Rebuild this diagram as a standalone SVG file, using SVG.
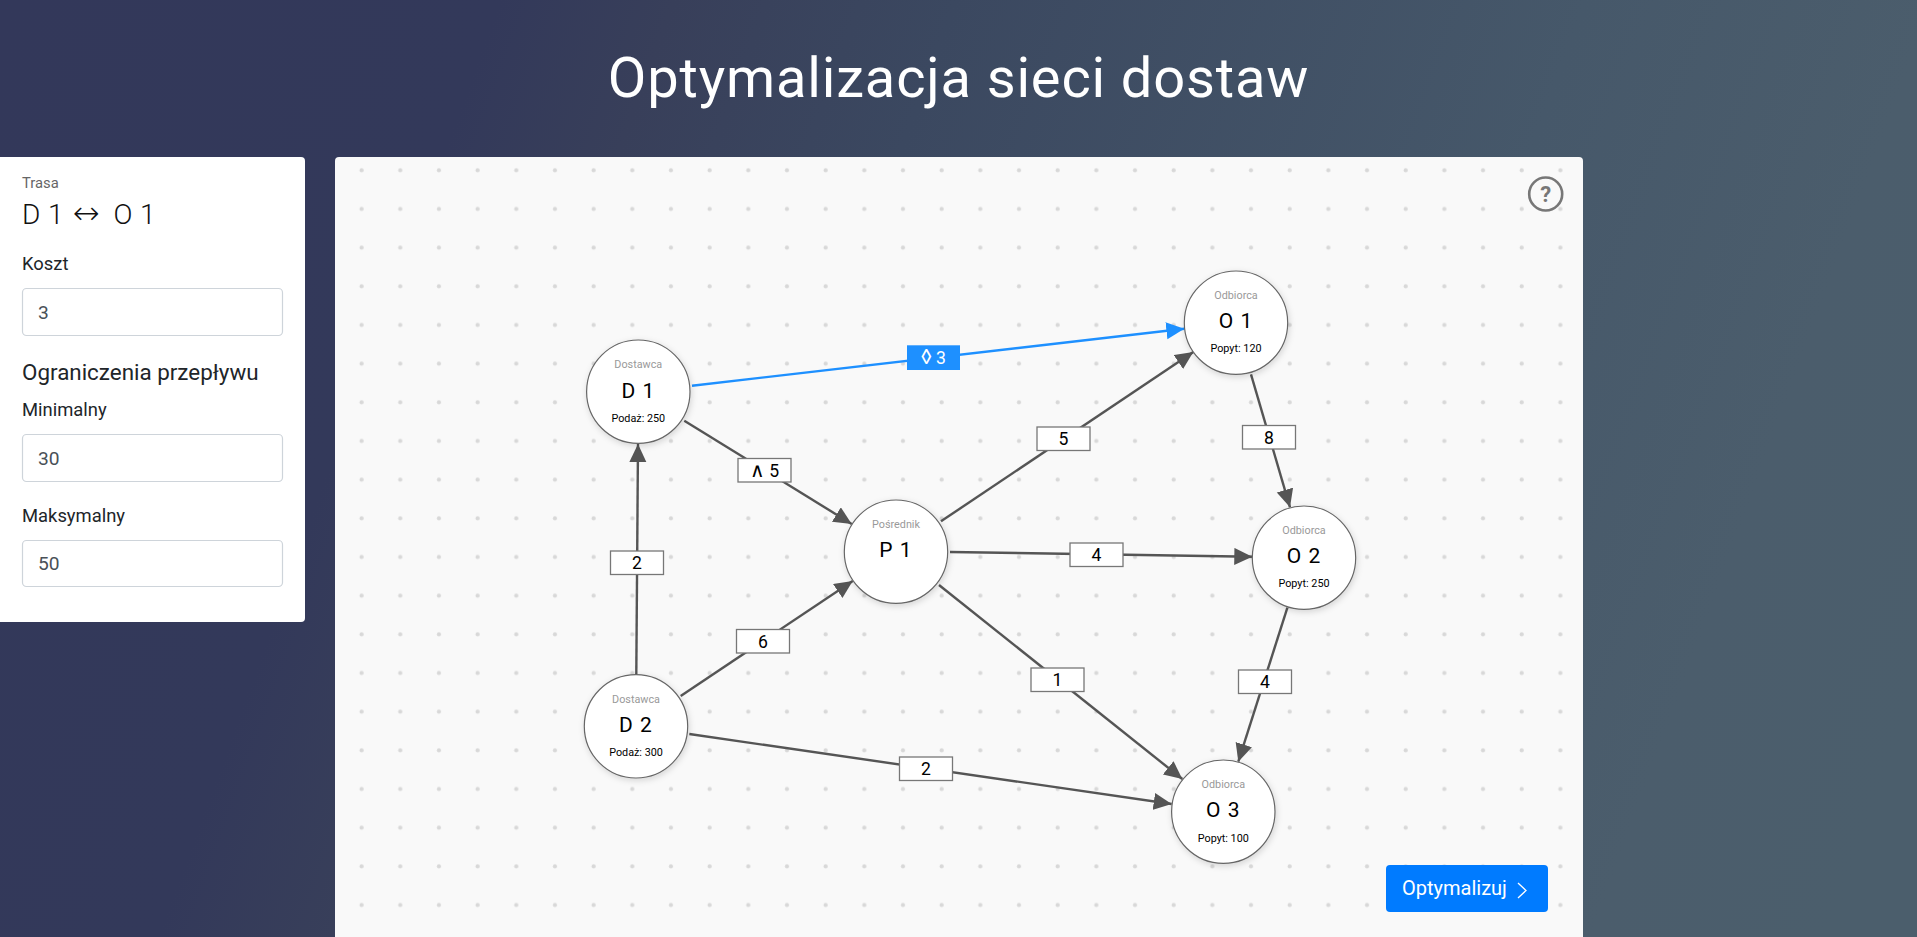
<svg xmlns="http://www.w3.org/2000/svg" width="1917" height="937" viewBox="0 0 1917 937">
<defs>
<linearGradient id="bg" gradientUnits="userSpaceOnUse" x1="0" y1="0" x2="1917" y2="700"><stop offset="0" stop-color="#33385a"/><stop offset=".23" stop-color="#33395a"/><stop offset=".31" stop-color="#383f5a"/><stop offset=".44" stop-color="#3b4860"/><stop offset=".73" stop-color="#46586a"/><stop offset=".89" stop-color="#4b5d6c"/><stop offset="1" stop-color="#4b5e6c"/></linearGradient>
<pattern id="dots" patternUnits="userSpaceOnUse" x="335" y="157" width="38.67" height="38.67"><circle cx="26.6" cy="13.3" r="2.1" fill="#d8d8d8"/></pattern>
<marker id="ah" markerUnits="userSpaceOnUse" markerWidth="19" markerHeight="18" refX="18" refY="8.5" orient="auto"><path d="M0 0L18 8.5L0 17Z" fill="#555"/></marker>
<marker id="ahb" markerUnits="userSpaceOnUse" markerWidth="19" markerHeight="18" refX="18" refY="8.5" orient="auto"><path d="M0 0L18 8.5L0 17Z" fill="#1e90ff"/></marker>
<filter id="sh" x="-20%" y="-20%" width="140%" height="140%"><feDropShadow dx="1" dy="2" stdDeviation="3" flood-color="#000" flood-opacity=".15"/></filter>
</defs>
<style>
text{font-family:Roboto,"Liberation Sans",sans-serif}
.edge{stroke:#555;stroke-width:2.4;fill:none;marker-end:url(#ah)}
.edge.sel{stroke:#1e90ff;marker-end:url(#ahb)}
.box{fill:#fff;stroke:#777;stroke-width:1.3}
.lt{font-size:17.6px;text-anchor:middle;fill:#000}
.c{fill:#fff;stroke:#666;stroke-width:1.2;filter:url(#sh)}
.t{font-size:10.8px;text-anchor:middle;fill:#999}
.n{font-size:21px;text-anchor:middle;fill:#000;letter-spacing:1px}
.s{font-size:10.8px;text-anchor:middle;fill:#000}
.lab{font-size:18.4px;fill:#212529}
.inp{fill:#fff;stroke:#ced4da;stroke-width:1.2}
.val{font-size:19.2px;fill:#495057}
.sym{font-family:"DejaVu Sans",sans-serif;font-weight:200}
</style>
<rect width="1917" height="937" fill="url(#bg)"/>
<text id="title" x="958.5" y="97" text-anchor="middle" font-size="56" font-weight="400" letter-spacing=".85" fill="#fff">Optymalizacja sieci dostaw</text>
<g id="sidebar">
<path d="M0 157H301a4 4 0 0 1 4 4V618a4 4 0 0 1-4 4H0Z" fill="#fff"/>
<text x="22" y="188" font-size="14.8" fill="#666">Trasa</text>
<text x="22" y="224" font-size="28" font-weight="300" letter-spacing=".4" fill="#111">D 1<tspan class="sym" x="73" font-size="32">↔</tspan><tspan x="113.5">O 1</tspan></text>
<text class="lab" x="22" y="270">Koszt</text>
<rect class="inp" x="22.5" y="288.5" width="260" height="47" rx="4"/>
<text class="val" x="38" y="319">3</text>
<text x="22" y="380" font-size="22.4" fill="#212529">Ograniczenia przepływu</text>
<text class="lab" x="22" y="416">Minimalny</text>
<rect class="inp" x="22.5" y="434.5" width="260" height="47" rx="4"/>
<text class="val" x="38" y="465">30</text>
<text class="lab" x="22" y="522">Maksymalny</text>
<rect class="inp" x="22.5" y="540.5" width="260" height="46" rx="4"/>
<text class="val" x="38" y="570">50</text>
</g>
<g id="canvas">
<path d="M335 937V161a4 4 0 0 1 4-4H1579a4 4 0 0 1 4 4V937Z" fill="#f9f9f9"/>
<path d="M335 937V161a4 4 0 0 1 4-4H1579a4 4 0 0 1 4 4V937Z" fill="url(#dots)"/>
</g>
<g id="connectors">
<line class="edge" x1="636.3" y1="674" x2="638" y2="444"/>
<line class="edge" x1="684.3" y1="420.7" x2="851.7" y2="524"/>
<line class="edge sel" x1="692" y1="385.7" x2="1184.3" y2="328.7"/>
<line class="edge" x1="680.7" y1="696" x2="852.7" y2="581"/>
<line class="edge" x1="941" y1="521.3" x2="1193.3" y2="352"/>
<line class="edge" x1="950" y1="552" x2="1252.3" y2="556.7"/>
<line class="edge" x1="939" y1="585" x2="1182.3" y2="779"/>
<line class="edge" x1="1251" y1="374.3" x2="1290" y2="507.3"/>
<line class="edge" x1="1287.4" y1="607.6" x2="1238.3" y2="761.7"/>
<line class="edge" x1="689.3" y1="734" x2="1171.7" y2="804"/>
<g id="edge-labels">
<rect class="box" x="610.5" y="551" width="53" height="23.5"/><text class="lt" x="637" y="569">2</text>
<rect class="box" x="738" y="458.5" width="53" height="23.5"/><text class="lt" x="764.5" y="476.5"><tspan class="sym" font-size="20">∧</tspan> 5</text>
<rect x="907" y="345.3" width="53" height="24.7" fill="#1e90ff"/><text class="lt" x="933.5" y="363.5" style="fill:#fff"><tspan font-size="21">◊</tspan> 3</text>
<rect class="box" x="736.5" y="629.5" width="53" height="23.5"/><text class="lt" x="763" y="647.5">6</text>
<rect class="box" x="1037" y="427" width="53" height="23.5"/><text class="lt" x="1063.5" y="445">5</text>
<rect class="box" x="1070" y="543" width="53" height="23.5"/><text class="lt" x="1096.5" y="561">4</text>
<rect class="box" x="1242.5" y="425.5" width="53" height="23.5"/><text class="lt" x="1269" y="443.5">8</text>
<rect class="box" x="1238.5" y="670" width="53" height="23.5"/><text class="lt" x="1265" y="688">4</text>
<rect class="box" x="1031" y="668" width="53" height="23.5"/><text class="lt" x="1057.5" y="686">1</text>
<rect class="box" x="899.5" y="757" width="53" height="23.5"/><text class="lt" x="926" y="775">2</text>
</g>
</g>
<g id="node-d1"><circle class="c" cx="638.3" cy="391.7" r="51.7"/><text class="t" x="638.3" y="368">Dostawca</text><text class="n" x="638.3" y="398">D 1</text><text class="s" x="638.3" y="422">Podaż: 250</text></g>
<g id="node-d2"><circle class="c" cx="636" cy="726.3" r="51.7"/><text class="t" x="636" y="703">Dostawca</text><text class="n" x="636" y="732">D 2</text><text class="s" x="636" y="756">Podaż: 300</text></g>
<g id="node-p1"><circle class="c" cx="896" cy="551.7" r="51.7"/><text class="t" x="896" y="528">Pośrednik</text><text class="n" x="896" y="557">P 1</text></g>
<g id="node-o1"><circle class="c" cx="1236" cy="322.7" r="51.7"/><text class="t" x="1236" y="299">Odbiorca</text><text class="n" x="1236" y="328">O 1</text><text class="s" x="1236" y="352">Popyt: 120</text></g>
<g id="node-o2"><circle class="c" cx="1304" cy="557.7" r="51.7"/><text class="t" x="1304" y="534">Odbiorca</text><text class="n" x="1304" y="563">O 2</text><text class="s" x="1304" y="587">Popyt: 250</text></g>
<g id="node-o3"><circle class="c" cx="1223.3" cy="811.7" r="51.7"/><text class="t" x="1223.3" y="788">Odbiorca</text><text class="n" x="1223.3" y="817">O 3</text><text class="s" x="1223.3" y="842">Popyt: 100</text></g>
<g id="help"><circle cx="1545.7" cy="194" r="16.5" fill="none" stroke="#777" stroke-width="2.6"/><text x="1545.7" y="201.5" font-size="22" font-weight="700" text-anchor="middle" fill="#777">?</text></g>
<g id="optimize"><rect x="1386" y="865" width="162" height="47" rx="4" fill="#007bff"/><text x="1402" y="895" font-size="20" fill="#fff">Optymalizuj</text><path d="M1518 883L1526 890.5L1518 898" fill="none" stroke="#fff" stroke-width="1.3"/></g>
</svg>
